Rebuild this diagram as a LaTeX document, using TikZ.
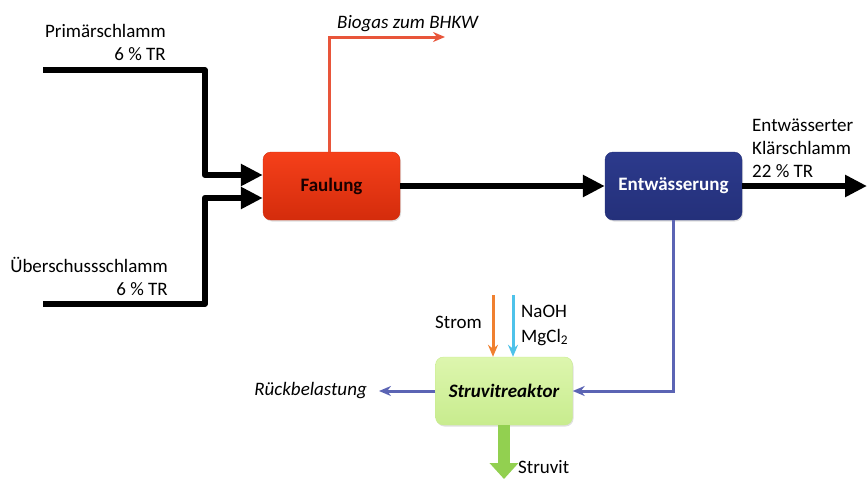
\documentclass[tikz,border=0pt]{standalone}
\usepackage{fontspec}
\setmainfont{Carlito}
\usetikzlibrary{arrows.meta,calc,shadows,positioning}

\definecolor{faulred}{HTML}{F5401A}
\definecolor{faulreddark}{HTML}{D42C0C}
\definecolor{entblue}{HTML}{2C3A8C}
\definecolor{entbluedark}{HTML}{24307A}
\definecolor{struvgreen}{HTML}{DDF6AE}
\definecolor{struvgreendark}{HTML}{C8EC8E}
\definecolor{gasred}{HTML}{E8553A}
\definecolor{flowblue}{HTML}{5B64B4}
\definecolor{stromorange}{HTML}{F08030}
\definecolor{chemcyan}{HTML}{4EC2EA}
\definecolor{struvitgreen}{HTML}{92D050}

\begin{document}
\begin{tikzpicture}[x=1pt,y=-1pt,
  process/.style={rounded corners=8pt,minimum width=137pt,minimum height=68pt,font=\fontsize{19}{23}\selectfont\bfseries,drop shadow={opacity=.25,shadow xshift=1pt,shadow yshift=-1.5pt}},
  txt/.style={font=\fontsize{19}{23}\selectfont,inner sep=0pt},
  sludge/.style={line width=6pt,line join=round,-{Triangle[length=22pt,width=21pt]}},
  gas/.style={gasred,line width=3pt,-{Stealth[length=12pt,width=10pt]}},
  flow/.style={flowblue,line width=3pt,-{Stealth[length=12pt,width=10pt]}},
  dosing/.style={line width=3pt,-{Stealth[length=12pt,width=10pt]}}]
  \useasboundingbox (0,0) rectangle (867,479);

  % process units
  \node[process,draw=faulreddark,top color=faulred,bottom color=faulreddark,text=black!90!red] (faulung) at (331.5,186) {Faulung};
  \node[process,draw=entbluedark,top color=entblue,bottom color=entbluedark,text=white] (entw) at (673.5,186) {Entwässerung};
  \node[process,draw=struvgreendark,top color=struvgreen,bottom color=struvgreendark,font=\fontsize{19}{23}\selectfont\bfseries\itshape] (struvi) at (504,391) {Struvitreaktor};

  % inputs
  \coordinate (prim in) at (43,70);
  \coordinate (ueber in) at (43,304);
  \node[txt,anchor=base east] (prim) at (166,37) {Primärschlamm};
  \node[txt,anchor=base east] (prim tr) at (166,60) {6 \% TR};
  \node[txt,anchor=base east] (ueber) at (168,272) {Überschussschlamm};
  \node[txt,anchor=base east] (ueber tr) at (168,295) {6 \% TR};

  \draw[sludge] (prim in) -| ([xshift=-58pt,yshift=11pt]faulung.west) -- ([yshift=11pt]faulung.west);
  \draw[sludge] (ueber in) -| ([xshift=-58pt,yshift=-12pt]faulung.west) -- ([yshift=-12pt]faulung.west);

  % biogas
  \coordinate (gas out) at (445,37);
  \node[txt,anchor=base west] (biogas) at (337,28) {\itshape Biogas zum BHKW};
  \draw[gas] ([xshift=-2.5pt]faulung.north) |- (gas out);

  % sludge line
  \coordinate (schlamm out) at (867,186);
  \draw[sludge] (faulung) -- (entw);
  \draw[sludge] (entw) -- (schlamm out);
  \node[txt,anchor=base west] (schlamm) at (752,131) {Entwässerter};
  \node[txt,anchor=base west] (schlamm 2) at (752,154) {Klärschlamm};
  \node[txt,anchor=base west] (schlamm tr) at (752,177) {22 \% TR};

  % struvite precipitation
  \draw[flow] (entw.south) |- (struvi.east);
  \coordinate (rueck end) at (379,391);
  \draw[flow] (struvi.west) -- (rueck end);
  \node[txt,left=12pt of rueck end] (rueck) {\itshape Rückbelastung};

  \coordinate (strom in) at (493,295);
  \coordinate (chem in) at (513,295);
  \draw[dosing,stromorange] (strom in) -- (strom in |- struvi.north);
  \draw[dosing,chemcyan] (chem in) -- (chem in |- struvi.north);
  \node[txt,anchor=base east] (strom) at (482,328) {Strom};
  \node[txt,anchor=base west] (naoh) at (521,317) {NaOH};
  \node[txt,anchor=base west] (mgcl) at (521,342) {MgCl\textsubscript{2}};

  \coordinate (struvit out) at (504,479);
  \draw[struvitgreen,line width=12pt,-{Triangle[length=16pt,width=28pt]}] (struvi.south) -- (struvit out);
  \node[txt,anchor=base west] (struvit) at (518,473) {Struvit};
\end{tikzpicture}
\end{document}
